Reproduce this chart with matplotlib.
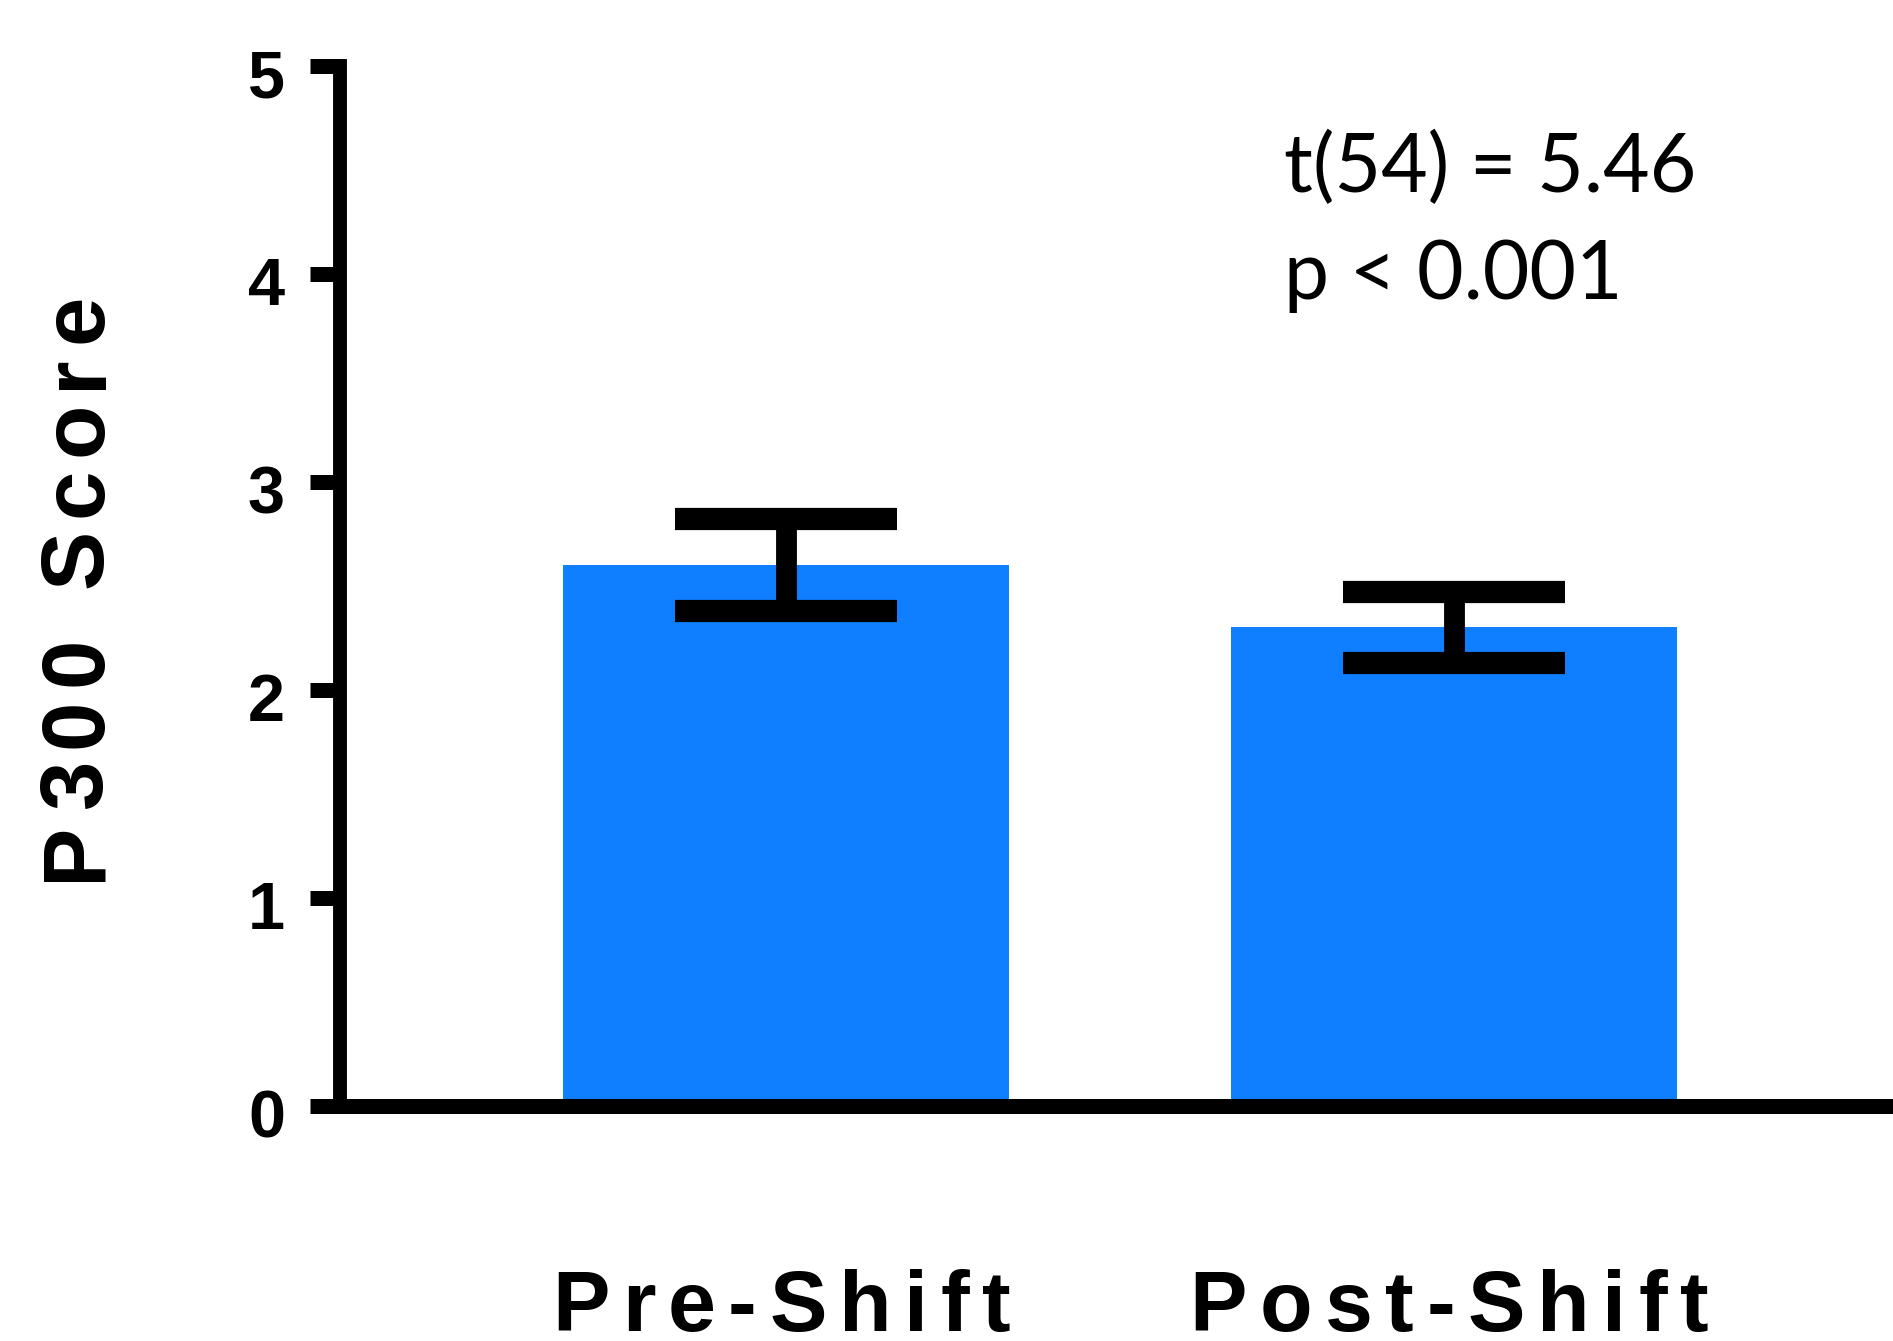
import numpy as np
import matplotlib
matplotlib.use("Agg")
import matplotlib.pyplot as plt
from matplotlib.font_manager import FontProperties, findfont
from matplotlib.ft2font import FT2Font
from matplotlib.transforms import IdentityTransform, ScaledTranslation

# data
categories = ["Pre-Shift", "Post-Shift"]
means = [2.60, 2.30]
sems = [0.22, 0.17]
yticks = [0, 1, 2, 3, 4, 5]
stat_lines = ["t(54) = 5.46", "p < 0.001"]

W, H, DPI = 1893, 1341, 100
fig = plt.figure(figsize=(W / DPI, H / DPI), dpi=DPI)
ax = fig.add_axes([340 / W, (H - 1105.5) / H, 1 - 340 / W, (1105.5 - 66) / H])

bold = FontProperties(family="Liberation Sans", weight="bold")
light = FontProperties(family="Lato")


def advances(s, fp, size):
    # glyph advance widths in pixels
    font = FT2Font(findfont(fp))
    font.set_size(size, DPI)
    return [font.load_char(ord(c)).linearHoriAdvance / 65536 for c in s]


def spaced_text(s, x, y, fp, size, track, rotation=0, align="left"):
    # draw s letter by letter (x, y in pixels), with extra tracking
    adv = advances(s, fp, size)
    total = sum(adv) + track * (len(s) - 1)
    pos = 0 if align == "left" else -total / 2
    for c, a in zip(s, adv):
        if rotation == 90:
            px, py = x, y + pos
        else:
            px, py = x + pos, y
        fig.text(px, py, c, fontproperties=fp, fontsize=size, ha="left",
                 va="baseline", rotation=rotation, rotation_mode="anchor",
                 transform=IdentityTransform())
        pos += a + track


x = np.arange(len(categories))
ax.bar(x, means, width=0.668, color="#107FFF", zorder=1)
ax.errorbar(x, means, yerr=sems, fmt="none", ecolor="black", elinewidth=15,
            capsize=80, capthick=16, zorder=3)

ax.set_xlim(-0.668, 1.657)
ax.set_ylim(0, 5)

for side in ["top", "right"]:
    ax.spines[side].set_visible(False)
ax.spines["left"].set_linewidth(10)
ax.spines["bottom"].set_linewidth(10.8)
ax.spines["bottom"].set_zorder(4)

ax.set_yticks(yticks)
ax.set_yticklabels([str(t) for t in yticks])
ax.tick_params(axis="y", direction="out", length=21.6, width=10.8, pad=18)
ax.set_xticks([])
# labels sit a little below their ticks in the original
shift = ScaledTranslation(0, -0.075, fig.dpi_scale_trans)
for lab in ax.get_yticklabels():
    lab.set_fontproperties(bold)
    lab.set_fontsize(48)
    lab.set_transform(lab.get_transform() + shift)

# category labels, letter spaced, under each bar
for i, cat in enumerate(categories):
    cx = ax.transData.transform((i, 0))[0]
    spaced_text(cat, cx - 5, H - 1331, bold, 62, 12.5, align="center")

# y label, vertical and letter spaced
spaced_text("P300 Score", 101, H - 587, bold, 64, 12, rotation=90, align="center")

# stats annotation
for k, line in enumerate(stat_lines):
    fig.text(1284, H - 192 - 107 * k, line, fontproperties=light, fontsize=58,
             ha="left", va="baseline", transform=IdentityTransform())

fig.savefig("out.png", dpi=DPI)
